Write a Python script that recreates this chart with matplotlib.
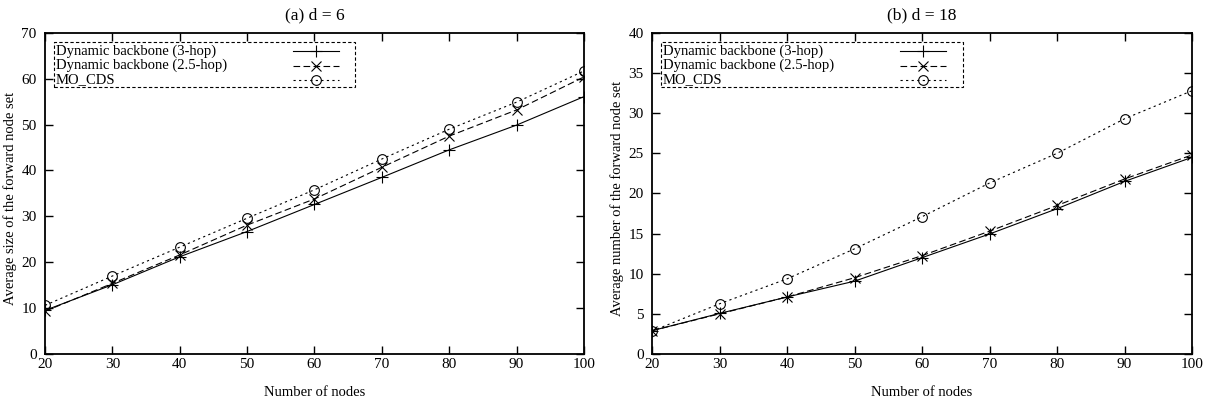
import matplotlib
matplotlib.use("Agg")
import matplotlib.pyplot as plt
from matplotlib.patches import Rectangle

plt.rcParams['font.family'] = ['Liberation Serif', 'DejaVu Serif']
plt.rcParams['font.size'] = 10.5

# Дані
nodes = [20, 30, 40, 50, 60, 70, 80, 90, 100]
labels = ['Dynamic backbone (3-hop)', 'Dynamic backbone (2.5-hop)', 'MO_CDS']

# (a) d = 6
d6_3hop = [9.5, 15.1, 21.2, 26.7, 32.6, 38.5, 44.5, 49.9, 56.1]
d6_25hop = [9.3, 15.4, 21.6, 28.1, 33.8, 40.7, 47.5, 53.2, 60.4]
d6_mocds = [10.6, 17.0, 23.3, 29.6, 35.8, 42.5, 49.0, 54.9, 61.7]

# (b) d = 18
d18_3hop = [2.9, 5.05, 7.1, 9.07, 12.0, 14.95, 18.1, 21.5, 24.5]
d18_25hop = [2.9, 5.0, 7.1, 9.5, 12.25, 15.3, 18.5, 21.8, 24.8]
d18_mocds = [2.85, 6.25, 9.36, 13.1, 17.1, 21.3, 25.0, 29.3, 32.8]

styles = [
    dict(linestyle='-', marker='+', markersize=8),
    dict(linestyle=(0, (6, 3)), marker='x', markersize=7),
    dict(linestyle=(0, (2, 3)), marker='o', markersize=7, markerfacecolor='none'),
]

fig = plt.figure(figsize=(12.11, 4.08), dpi=100)
ax1 = fig.add_axes([0.0372, 0.1324, 0.445, 0.787])
ax2 = fig.add_axes([0.5384, 0.1324, 0.446, 0.787])


def draw_panel(ax, series, title, ylabel, ymax, ystep):
    for ys, st in zip(series, styles):
        ax.plot(nodes, ys, color='black', linewidth=0.8, markeredgewidth=0.8, **st)
    ax.set_xlim(20, 100)
    ax.set_ylim(0, ymax)
    ax.set_xticks(nodes)
    ax.set_yticks(range(0, ymax + 1, ystep))
    ax.tick_params(direction='in', length=6, width=1, top=True, right=True, labelsize=11)
    ax.tick_params(axis='x', pad=3)
    ax.tick_params(axis='y', pad=6)
    for sp in ax.spines.values():
        sp.set_linewidth(1.3)
    ax.set_title(title, pad=10)
    ax.set_xlabel('Number of nodes')
    ax.xaxis.set_label_coords(0.5, -0.1)
    ax.set_ylabel(ylabel)
    ax.yaxis.set_label_coords(-0.052, 0.485)

    # легенда у стилі gnuplot: текст ліворуч, зразок лінії праворуч
    ax.add_patch(Rectangle((0.017, 0.832), 0.558, 0.14, transform=ax.transAxes,
                           fill=False, linestyle=(0, (3, 2)), linewidth=0.8, zorder=5))
    rows = [0.943, 0.898, 0.853]
    for lab, st, yy in zip(labels, styles, rows):
        ax.text(0.02, yy, lab, transform=ax.transAxes, va='center', ha='left')
        ax.plot([0.46, 0.545], [yy, yy], transform=ax.transAxes, color='black',
                linewidth=0.8, linestyle=st['linestyle'])
        ax.plot([0.5025], [yy], transform=ax.transAxes, color='black', linestyle='none',
                marker=st['marker'], markersize=st['markersize'],
                markerfacecolor='none', markeredgewidth=0.8)


draw_panel(ax1, [d6_3hop, d6_25hop, d6_mocds], '(a) d = 6',
           'Average size of the forward node set', 70, 10)
draw_panel(ax2, [d18_3hop, d18_25hop, d18_mocds], '(b) d = 18',
           'Average number of the forward node set', 40, 5)

fig.savefig('out.png', dpi=100)
